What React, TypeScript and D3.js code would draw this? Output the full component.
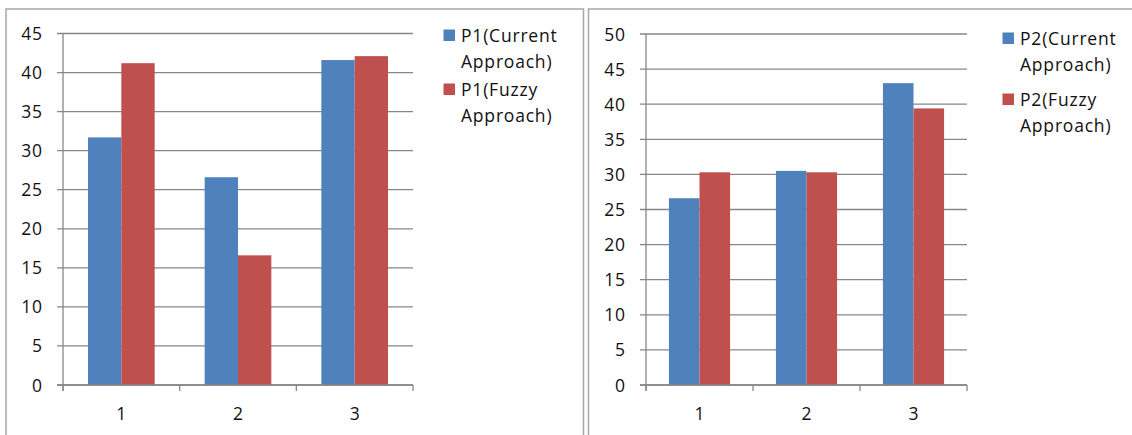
import React from "react";
import * as d3 from "d3";

const categories = ["1", "2", "3"];
const p1Current = [31.7, 26.6, 41.6];
const p1Fuzzy = [41.2, 16.6, 42.1];
const p2Current = [26.6, 30.5, 43.0];
const p2Fuzzy = [30.3, 30.3, 39.4];
const p1Ticks = [0, 5, 10, 15, 20, 25, 30, 35, 40, 45];
const p2Ticks = [0, 5, 10, 15, 20, 25, 30, 35, 40, 45, 50];
const p1Legend = [["P1(Current", "Approach)"], ["P1(Fuzzy", "Approach)"]];
const p2Legend = [["P2(Current", "Approach)"], ["P2(Fuzzy", "Approach)"]];

const BLUE = "#4F81BD";
const RED = "#C0504D";
const GRID = "#878787";
const FONT = "'Open Sans', sans-serif";

type Cfg = {
  border: [number, number, number, number];
  x0: number; x1: number; yTop: number; yBot: number;
  max: number; ticks: number[];
  current: number[]; fuzzy: number[];
  legend: string[][];
  legX: number; legTextX: number; legBase: number[]; legSq: number[];
};

function Chart({ c }: { c: Cfg }) {
  const x = d3.scaleBand<string>().domain(categories).range([c.x0, c.x1]).padding(0);
  const y = d3.scaleLinear().domain([0, c.max]).range([c.yBot, c.yTop]);
  const bw = x.bandwidth() / 3.5;
  const series = [c.current, c.fuzzy];
  const colors = [BLUE, RED];
  const boundaries = [...categories.map((k) => x(k)!), c.x1];
  return (
    <g>
      <rect x={c.border[0]} y={c.border[1]} width={c.border[2]} height={c.border[3]} fill="#fff" stroke="#a6a6a6" strokeWidth={1.5} />
      {c.ticks.map((t) => (
        <g key={t}>
          <line x1={c.x0 - 6} x2={c.x1} y1={y(t)} y2={y(t)} stroke={GRID} strokeWidth={1.3} />
          <text x={c.x0 - 20} y={y(t) + 6.5} textAnchor="end" fontFamily={FONT} fontSize={17.5} letterSpacing={0.9} fill="#111">{t}</text>
        </g>
      ))}
      {series.map((s, si) =>
        s.map((v, i) => {
          const cx = x(categories[i])! + x.bandwidth() / 2;
          const bx = cx - bw + si * bw;
          return <rect key={si + "-" + i} x={bx} y={y(v)} width={bw} height={y(0) - y(v)} fill={colors[si]} />;
        })
      )}
      <line x1={c.x0} x2={c.x0} y1={c.yTop} y2={c.yBot + 6} stroke={GRID} strokeWidth={1.3} />
      <line x1={c.x0 - 6} x2={c.x1} y1={c.yBot} y2={c.yBot} stroke={GRID} strokeWidth={1.3} />
      {boundaries.map((b, i) => (
        <line key={i} x1={b} x2={b} y1={c.yBot} y2={c.yBot + 6} stroke={GRID} strokeWidth={1.3} />
      ))}
      {categories.map((k) => (
        <text key={k} x={x(k)! + x.bandwidth() / 2} y={420} textAnchor="middle" fontFamily={FONT} fontSize={17.5} fill="#111">{k}</text>
      ))}
      {c.legend.map((lines, li) => (
        <g key={li}>
          <rect x={c.legX} y={c.legSq[li]} width={11.5} height={11.5} fill={colors[li]} />
          {lines.map((ln, j) => (
            <text key={j} x={c.legTextX} y={c.legBase[li * 2 + j]} fontFamily={FONT} fontSize={17.5} letterSpacing={0.8} fill="#111">{ln}</text>
          ))}
        </g>
      ))}
    </g>
  );
}

const left: Cfg = {
  border: [6, 9, 577.5, 440],
  x0: 63, x1: 413, yTop: 33.5, yBot: 385, max: 45, ticks: p1Ticks,
  current: p1Current, fuzzy: p1Fuzzy, legend: p1Legend,
  legX: 443.5, legTextX: 461, legBase: [42, 67.5, 96, 121.5], legSq: [29.5, 83.5],
};
const right: Cfg = {
  border: [588.5, 9, 560, 440],
  x0: 646, x1: 967, yTop: 34, yBot: 385, max: 50, ticks: p2Ticks,
  current: p2Current, fuzzy: p2Fuzzy, legend: p2Legend,
  legX: 1002.5, legTextX: 1020, legBase: [45, 71, 106, 132], legSq: [32.5, 93.5],
};

export default function App() {
  return (
    <svg width={1132} height={435} style={{ position: "absolute", left: 0, top: 0, background: "#fff" }}>
      <rect x={0} y={0} width={1132} height={435} fill="#fff" />
      <Chart c={left} />
      <Chart c={right} />
    </svg>
  );
}
